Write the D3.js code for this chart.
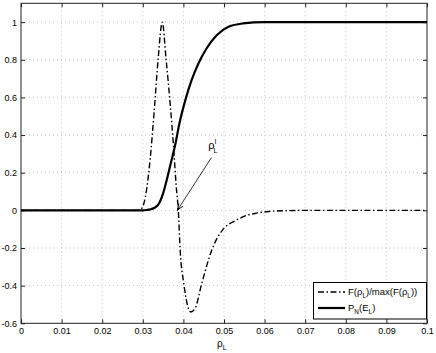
<!DOCTYPE html>
<html>
<head>
<meta charset="utf-8">
<script src="https://cdn.jsdelivr.net/npm/d3@7"></script>
<style>
  body { margin: 0; background: #fff; }
  svg text { font-family: "Liberation Sans", Arial, sans-serif; }
</style>
</head>
<body>
<div id="chart"></div>
<script>
// curve
const fRho = [0, 0.029, 0.030, 0.0303, 0.031, 0.0318, 0.0328, 0.0338, 0.0348, 0.0357, 0.0369, 0.0375, 0.0383, 0.03875,
  0.0392, 0.0401, 0.0418, 0.0429, 0.0445, 0.047, 0.0498, 0.0527, 0.056, 0.058, 0.061, 0.065, 0.07, 0.1];
const fVal = [0, 0, 0.02, 0.04, 0.12, 0.27, 0.525, 0.81, 1.0, 0.81, 0.525, 0.36, 0.11, 0.0,
  -0.21, -0.39, -0.54, -0.52, -0.39, -0.21, -0.10, -0.056, -0.024, -0.015, -0.006, -0.002, 0, 0];

const pRho = [0, 0.030, 0.031, 0.032, 0.033, 0.0338, 0.035, 0.036, 0.037, 0.038, 0.039, 0.0406, 0.042,
  0.0437, 0.0457, 0.0482, 0.0511, 0.0547, 0.06, 0.1];
const pVal = [0, 0, 0.002, 0.006, 0.015, 0.03, 0.09, 0.17, 0.26, 0.35, 0.46, 0.595, 0.69,
  0.78, 0.86, 0.93, 0.975, 0.993, 1, 1];

const xTicks = [0, 0.01, 0.02, 0.03, 0.04, 0.05, 0.06, 0.07, 0.08, 0.09, 0.1];
const yTicks = [-0.6, -0.4, -0.2, 0, 0.2, 0.4, 0.6, 0.8, 1];

const width = 436, height = 353;
const margin = { top: 3.3, right: 9, bottom: 29.7, left: 21 };
const innerW = width - margin.left - margin.right;
const innerH = height - margin.top - margin.bottom;

const svg = d3.select("#chart").append("svg")
  .attr("width", width).attr("height", height);
const g = svg.append("g").attr("transform", `translate(${margin.left},${margin.top})`);

const x = d3.scaleLinear().domain([0, 0.1]).range([0, innerW]);
const y = d3.scaleLinear().domain([-0.6, 1.1]).range([innerH, 0]);

// grid
g.selectAll(".gx").data(xTicks.slice(1, -1)).enter().append("line")
  .attr("x1", d => x(d)).attr("x2", d => x(d)).attr("y1", 0).attr("y2", innerH)
  .attr("stroke", "#b8b8b8").attr("stroke-width", 0.8).attr("stroke-dasharray", "1,3");
g.selectAll(".gy").data(yTicks.slice(1)).enter().append("line")
  .attr("x1", 0).attr("x2", innerW).attr("y1", d => y(d)).attr("y2", d => y(d))
  .attr("stroke", "#b8b8b8").attr("stroke-width", 0.8).attr("stroke-dasharray", "1,3");

// axes (ticks inside, mirrored)
const fmt = d => d < 0 ? "-" + d3.format("")(Math.abs(+d.toFixed(2))) : d3.format("")(+d.toFixed(2));
const axBottom = g.append("g").attr("transform", `translate(0,${innerH})`)
  .call(d3.axisBottom(x).tickValues(xTicks).tickSize(-4).tickPadding(4).tickFormat(fmt));
const axLeft = g.append("g")
  .call(d3.axisLeft(y).tickValues(yTicks).tickSize(-4).tickPadding(4).tickFormat(fmt));
const axTop = g.append("g")
  .call(d3.axisTop(x).tickValues(xTicks).tickSize(-4).tickFormat(""));
const axRight = g.append("g").attr("transform", `translate(${innerW},0)`)
  .call(d3.axisRight(y).tickValues(yTicks).tickSize(-4).tickFormat(""));
[axBottom, axLeft, axTop, axRight].forEach(a => {
  a.select(".domain").remove();
  a.selectAll("line").attr("stroke", "#222");
  a.selectAll("text").attr("fill", "#000").style("font-size", "9px")
    .style("font-family", "'Liberation Sans', Arial, sans-serif");
});
g.append("rect").attr("width", innerW).attr("height", innerH)
  .attr("fill", "none").attr("stroke", "#222").attr("stroke-width", 1);

// curves
const line = d3.line().x(d => x(d[0])).y(d => y(d[1])).curve(d3.curveMonotoneX);
g.append("path").datum(fRho.map((r, i) => [r, fVal[i]]))
  .attr("d", line).attr("fill", "none").attr("stroke", "#000")
  .attr("stroke-width", 1.4).attr("stroke-dasharray", "6,2.5,1.5,2.5");
g.append("path").datum(pRho.map((r, i) => [r, pVal[i]]))
  .attr("d", line).attr("fill", "none").attr("stroke", "#000").attr("stroke-width", 2.2);

// annotation arrow
const tip = [0.0385, 0.0], tail = [0.0469, 0.28];
const x1 = x(tail[0]), y1 = y(tail[1]), x2 = x(tip[0]), y2 = y(tip[1]);
g.append("line").attr("x1", x1).attr("y1", y1).attr("x2", x2).attr("y2", y2)
  .attr("stroke", "#000").attr("stroke-width", 0.8);
const ang = Math.atan2(y2 - y1, x2 - x1), hl = 7, hw = 0.35;
g.append("path")
  .attr("d", `M${x2 - hl * Math.cos(ang - hw)},${y2 - hl * Math.sin(ang - hw)}L${x2},${y2}L${x2 - hl * Math.cos(ang + hw)},${y2 - hl * Math.sin(ang + hw)}`)
  .attr("fill", "none").attr("stroke", "#000").attr("stroke-width", 1);
const lab = g.append("text").attr("x", x(0.0461)).attr("y", y(0.325)).style("font-size", "11px");
lab.append("tspan").text("ρ");
lab.append("tspan").attr("dy", -5).attr("dx", 0).style("font-size", "7px").text("I");
lab.append("tspan").attr("dy", 9).attr("dx", -3).style("font-size", "7px").text("L");

// x label
const xl = svg.append("text").attr("x", 217).attr("y", 347).style("font-size", "10px");
xl.append("tspan").text("ρ");
xl.append("tspan").attr("dy", 3).style("font-size", "7px").text("L");

// legend
const lg = svg.append("g");
lg.append("rect").attr("x", 313.5).attr("y", 282.5).attr("width", 113).attr("height", 36.5)
  .attr("fill", "#fff").attr("stroke", "#000").attr("stroke-width", 1);
lg.append("line").attr("x1", 318).attr("x2", 345).attr("y1", 292).attr("y2", 292)
  .attr("stroke", "#000").attr("stroke-width", 1.4).attr("stroke-dasharray", "6,2.5,1.5,2.5");
lg.append("line").attr("x1", 318).attr("x2", 345).attr("y1", 308).attr("y2", 308)
  .attr("stroke", "#000").attr("stroke-width", 2.2);
const t1 = lg.append("text").attr("x", 348).attr("y", 295).style("font-size", "9.5px");
t1.append("tspan").text("F(ρ");
t1.append("tspan").attr("dy", 3).style("font-size", "6.5px").text("L");
t1.append("tspan").attr("dy", -3).text(")/max(F(ρ");
t1.append("tspan").attr("dy", 3).style("font-size", "6.5px").text("L");
t1.append("tspan").attr("dy", -3).text("))");
const t2 = lg.append("text").attr("x", 348).attr("y", 311).style("font-size", "9.5px");
t2.append("tspan").text("P");
t2.append("tspan").attr("dy", 3).style("font-size", "6.5px").text("N");
t2.append("tspan").attr("dy", -3).text("(E");
t2.append("tspan").attr("dy", 3).style("font-size", "6.5px").text("L");
t2.append("tspan").attr("dy", -3).text(")");
</script>
</body>
</html>
